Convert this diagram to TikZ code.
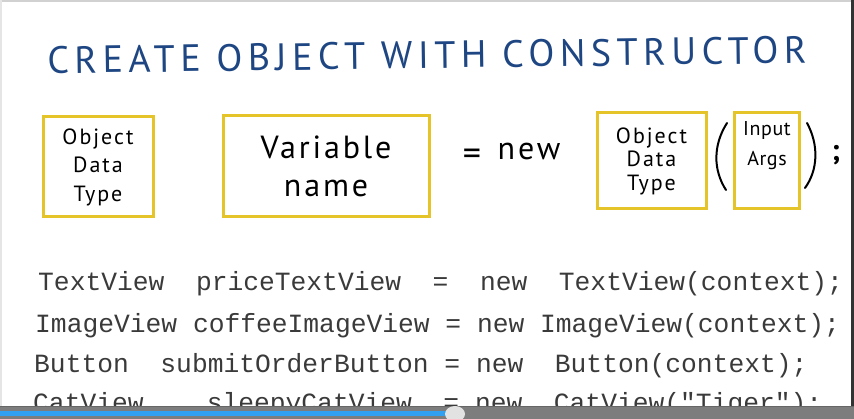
\documentclass[tikz,border=0pt]{standalone}
\usepackage{fontspec}
\usepackage{xcolor}
\usepackage{tikz}

\newfontfamily\handfont{PT Sans}[LetterSpace=9]
\newfontfamily\argsfont{PT Sans}[LetterSpace=3]
\newfontfamily\titlefont{PT Sans}[LetterSpace=14.5]
\newfontfamily\codefont{Liberation Mono}

\definecolor{titleblue}{RGB}{30,70,130}
\definecolor{boxyellow}{RGB}{228,196,40}
\definecolor{codegray}{RGB}{58,58,58}
\definecolor{bargray}{RGB}{125,125,125}
\definecolor{barblue}{RGB}{50,160,240}
\definecolor{knobgray}{RGB}{226,226,226}

\tikzset{
  typebox/.style={draw=boxyellow, line width=3pt, inner sep=0pt},
  handtext/.style={font=\handfont\fontsize{22}{28.5}\selectfont, align=center, text=black},
  codeline/.style={anchor=base west, inner sep=0pt, font=\codefont\fontsize{26.3}{30}\selectfont, text=codegray},
  handstroke/.style={draw=black, line width=2pt, line cap=round},
}

\begin{document}
\begin{tikzpicture}[x=1pt, y=-1pt]
  \useasboundingbox (0,0) rectangle (854,419);

  % Frame edges
  \fill[black!18] (0,0) rectangle (854,2);
  \fill[black!10] (0,0) rectangle (2,406);
  \fill[black!80] (851,0) rectangle (854,406);

  % Title
  \node[font=\titlefont\fontsize{38}{40}\selectfont, text=titleblue, rotate=0.8] (title) at (427,55) {CREATE OBJECT WITH CONSTRUCTOR};

  % Left hand side
  \node[typebox, handtext, minimum width=110pt, minimum height=100pt] (lefttype) at (98,167) {Object\\Data\\Type};
  \node[typebox, handtext, font=\handfont\fontsize{32}{38}\selectfont, minimum width=206pt, minimum height=101pt] (varname) at (326,166) {Variable\\name};

  % Right hand side
  \node[handtext, font=\handfont\fontsize{36}{30}\selectfont] (equals) at (472,157) {=};
  \node[handtext, font=\handfont\fontsize{32}{30}\selectfont] (newkw) at (529,152) {new};
  \node[typebox, handtext, font=\handfont\fontsize{22}{23.5}\selectfont, minimum width=109pt, minimum height=96pt] (righttype) at (651.5,161) {Object\\Data\\Type};
  \node[typebox, minimum width=65pt, minimum height=96pt] (argsbox) at (766.5,161) {};
  \node[handtext, font=\argsfont\fontsize{20}{30}\selectfont] (argstext) at (767,146) {Input\\Args};
  \draw[handstroke] (727,123) .. controls (713,145) and (713,170) .. (726,190);
  \draw[handstroke] (807,123) .. controls (819,145) and (818,170) .. (805,188);
  \node[handtext, font=\handfont\bfseries\fontsize{30}{30}\selectfont] (semi) at (836,155) {;};

  % Code examples
  \node[codeline] (line1) at (38,291) {TextView~~priceTextView~~=~~new~~TextView(context);};
  \node[codeline] (line2) at (35,333) {ImageView coffeeImageView = new ImageView(context);};
  \node[codeline] (line3) at (34,373) {Button~~submitOrderButton = new~~Button(context);};
  \node[codeline] (line4) at (33,411) {CatView~~~~sleepyCatView~~= new~~CatView("Tiger");};

  % Player bar
  \fill[bargray] (0,406) rectangle (854,419);
  \fill[black!60] (0,406) rectangle (854,407.5);
  \fill[barblue] (0,411) rectangle (455,416);
  \fill[knobgray] (455,414) ellipse (10 and 8);
\end{tikzpicture}
\end{document}
